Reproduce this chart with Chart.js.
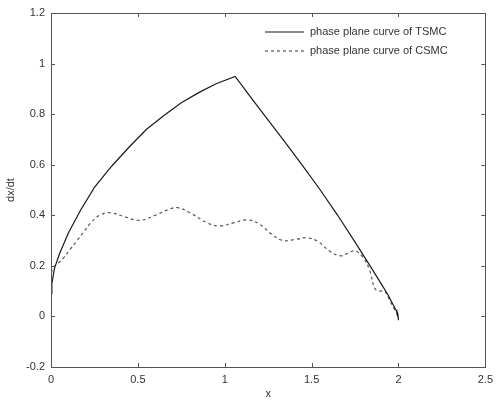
<!DOCTYPE html>
<html>
<head>
<meta charset="utf-8">
<script src="https://cdn.jsdelivr.net/npm/chart.js@4.4.0/dist/chart.umd.min.js"></script>
<style>
  html, body { margin: 0; padding: 0; background: #fff; }
  #wrap { width: 499px; height: 401px; }
</style>
</head>
<body>
<div id="wrap"><canvas id="phase-chart"></canvas></div>
<script>
// phase plane curve of TSMC (solid)
var xTSMC = [0.0, 0.005, 0.02, 0.05, 0.1, 0.17, 0.25, 0.35, 0.45, 0.55, 0.65, 0.75, 0.85, 0.95, 1.06,
             1.15, 1.25, 1.35, 1.45, 1.55, 1.65, 1.75, 1.85, 1.9, 1.94, 1.97, 1.99, 1.995, 1.99, 2.0, 1.995, 2.0];
var yTSMC = [0.09, 0.13, 0.19, 0.25, 0.33, 0.42, 0.51, 0.595, 0.67, 0.74, 0.795, 0.845, 0.885, 0.92, 0.949,
             0.866, 0.776, 0.686, 0.594, 0.5, 0.4, 0.294, 0.185, 0.13, 0.085, 0.045, 0.02, 0.0, 0.025, -0.01, 0.015, -0.015];

// phase plane curve of CSMC (dashed)
var xCSMC = [0.0, 0.01, 0.04, 0.07, 0.11, 0.15, 0.19, 0.224, 0.28, 0.34, 0.42, 0.51, 0.6, 0.685, 0.73, 0.8, 0.9, 0.97,
             1.05, 1.128, 1.2, 1.27, 1.335, 1.41, 1.473, 1.54, 1.6, 1.663, 1.71, 1.75, 1.8, 1.835, 1.864, 1.89, 1.92,
             1.95, 1.98, 2.0];
var yCSMC = [0.15, 0.19, 0.21, 0.23, 0.265, 0.30, 0.335, 0.366, 0.40, 0.41, 0.395, 0.38, 0.40, 0.425, 0.43, 0.41, 0.37, 0.358,
             0.37, 0.382, 0.365, 0.325, 0.30, 0.305, 0.311, 0.295, 0.26, 0.24, 0.25, 0.26, 0.23, 0.18, 0.11, 0.10, 0.10,
             0.063, 0.024, 0.0];

var seriesNames = ["phase plane curve of TSMC", "phase plane curve of CSMC"];

function toPoints(xs, ys) {
  return xs.map(function (x, i) { return { x: x, y: ys[i] }; });
}

var FONT = "'Liberation Sans', Arial, sans-serif";

// box around plot area with inward ticks on all sides, plus legend inside
var matlabAxes = {
  id: 'matlabAxes',
  afterDraw: function (chart) {
    var ctx = chart.ctx, a = chart.chartArea;
    var xs = chart.scales.x, ys = chart.scales.y;
    ctx.save();
    ctx.strokeStyle = '#555';
    ctx.lineWidth = 1;
    ctx.strokeRect(Math.round(a.left) + 0.5, Math.round(a.top) + 0.5,
                   Math.round(a.right - a.left), Math.round(a.bottom - a.top));
    ctx.beginPath();
    xs.ticks.forEach(function (t) {
      var px = Math.round(xs.getPixelForValue(t.value)) + 0.5;
      ctx.moveTo(px, a.bottom); ctx.lineTo(px, a.bottom - 4);
      ctx.moveTo(px, a.top); ctx.lineTo(px, a.top + 4);
    });
    ys.ticks.forEach(function (t) {
      var py = Math.round(ys.getPixelForValue(t.value)) + 0.5;
      ctx.moveTo(a.left, py); ctx.lineTo(a.left + 4, py);
      ctx.moveTo(a.right, py); ctx.lineTo(a.right - 4, py);
    });
    ctx.stroke();

    // legend
    ctx.font = '11px ' + FONT;
    ctx.textBaseline = 'middle';
    chart.data.datasets.forEach(function (ds, i) {
      var y = 32 + i * 19;
      ctx.strokeStyle = ds.borderColor;
      ctx.lineWidth = ds.borderWidth;
      ctx.setLineDash(ds.borderDash || []);
      ctx.beginPath();
      ctx.moveTo(265, y); ctx.lineTo(304, y);
      ctx.stroke();
      ctx.setLineDash([]);
      ctx.fillStyle = '#333';
      ctx.fillText(ds.label, 310, y);
    });
    ctx.restore();
  }
};

new Chart(document.getElementById("phase-chart"), {
  type: 'scatter',
  data: {
    datasets: [
      {
        label: seriesNames[0],
        data: toPoints(xTSMC, yTSMC),
        showLine: true,
        borderColor: '#1a1a1a',
        borderWidth: 1.2,
        pointRadius: 0,
        tension: 0,
        fill: false
      },
      {
        label: seriesNames[1],
        data: toPoints(xCSMC, yCSMC),
        showLine: true,
        borderColor: '#555',
        borderWidth: 1.2,
        borderDash: [3, 3],
        pointRadius: 0,
        tension: 0.4,
        fill: false
      }
    ]
  },
  options: {
    responsive: true,
    maintainAspectRatio: false,
    animation: false,
    layout: { padding: { left: 4, top: 13, right: 13, bottom: 0 } },
    plugins: {
      legend: { display: false },
      tooltip: { enabled: false }
    },
    scales: {
      x: {
        type: 'linear',
        min: 0, max: 2.5,
        grid: { display: false, drawTicks: false },
        border: { display: false },
        ticks: { stepSize: 0.5, color: '#333', padding: 6, maxRotation: 0,
                 font: { family: FONT, size: 11 },
                 callback: function (v) { return String(+v.toFixed(1)); } },
        title: { display: true, text: 'x', color: '#333', padding: 0,
                 font: { family: FONT, size: 11 } },
        afterFit: function (s) { s.height = 34; }
      },
      y: {
        type: 'linear',
        min: -0.2, max: 1.2,
        grid: { display: false, drawTicks: false },
        border: { display: false },
        ticks: { stepSize: 0.2, color: '#333', padding: 6,
                 font: { family: FONT, size: 11 },
                 callback: function (v) { return String(+v.toFixed(1)); } },
        title: { display: true, text: 'dx/dt', color: '#333', padding: 0,
                 font: { family: FONT, size: 11 } },
        afterFit: function (s) { s.width = 47; }
      }
    }
  },
  plugins: [matlabAxes]
});
</script>
</body>
</html>
